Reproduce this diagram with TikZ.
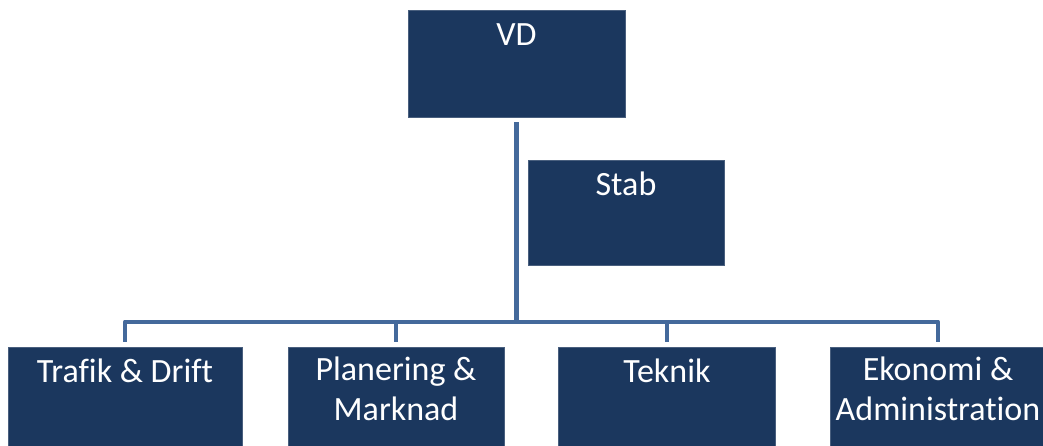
\documentclass[tikz,border=0pt]{standalone}
\usepackage{fontspec}
\setmainfont{Carlito}[Ligatures=CommonOff]
\usetikzlibrary{trees}
\definecolor{boxblue}{HTML}{1B375E}
\definecolor{linkblue}{HTML}{44699B}

\begin{document}
\begin{tikzpicture}[x=1pt,y=1pt,
    %
    level 1/.style={grow via three points={one child at (15,-337) and
    two children at (-120.5,-337) and (150.5,-337)}},
    unit/.style={rectangle, fill=boxblue, draw=boxblue!80!white, line width=0.4pt,
    minimum height=107pt, inner sep=0pt},
    unittext/.style={anchor=north, yshift=-10pt, inner sep=0pt, text=white, align=center,
    font=\fontsize{34}{40}\selectfont, execute at begin node={\rule{0pt}{25pt}}},
    edge from parent/.style={draw=linkblue, line width=4.5pt, line join=round},
    edge from parent path={([yshift=-5pt]\tikzparentnode.south) |- ([yshift=25pt]\tikzchildnode.north)
        -- ([yshift=5pt]\tikzchildnode.north)}]
    \useasboundingbox (0,0) rectangle (1043,-445);
    \node[unit, minimum width=217pt, label={[unittext]north:VD}] (vd) at (516.5,-63.5) {}
        child {
            node[unit, minimum width=234pt, label={[unittext]north:Trafik \& Drift}] (trafik) {}
        }
        child {
            node[unit, minimum width=216pt, label={[unittext]north:Planering \&\\Marknad}] (planering) {}
        }
        child {
            node[unit, minimum width=217pt, label={[unittext]north:Teknik}] (teknik) {}
        }
        child {
            node[unit, minimum width=216pt, label={[unittext]north:Ekonomi \&\\Administration}] (ekonomi) {}
        }
    ;
    \node[unit, minimum width=196pt, minimum height=105pt, label={[unittext]north:Stab}] (stab) at (626,-212.5) {};
\end{tikzpicture}
\end{document}
